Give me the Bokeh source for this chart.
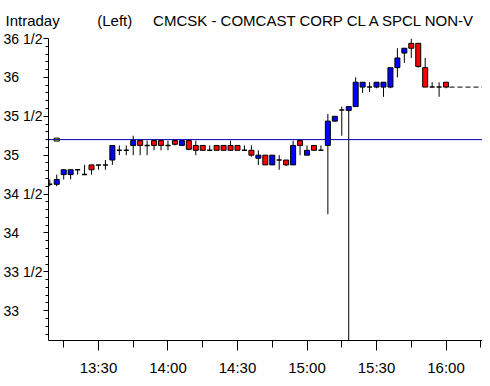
import numpy as np
from bokeh.plotting import figure
from bokeh.models import Range1d, FixedTicker, Span
from bokeh.embed import file_html
from bokeh.resources import INLINE

# ---------------- data ----------------
title_left = "Intraday"
title_mid = "(Left)"
title_right = "CMCSK - COMCAST CORP CL A SPCL NON-V"

start_time = "13:09"
interval_min = 3

opens = [34.625, 34.625, 34.75, 34.75, 34.8125, 34.75, 34.875, 34.875, 34.875, 34.9375,
         35.0625, 35.0625, 35.125, 35.1875, 35.125, 35.1875, 35.1875, 35.125, 35.1875, 35.125,
         35.1875, 35.125, 35.125, 35.0625, 35.125, 35.125, 35.125, 35.125, 35.0625, 35.0625,
         34.96, 35.0, 34.875, 34.9375, 34.9375, 34.875, 35.1875, 35.0, 35.125, 35.0625,
         35.125, 35.4375, 35.58, 35.575, 35.625, 35.875, 35.875, 35.875, 35.875, 35.875,
         36.125, 36.3125, 36.4375, 36.4375, 36.125, 35.875, 35.875, 35.9375]
highs = [34.6875, 34.75, 34.8125, 34.8125, 34.8125, 34.875, 34.875, 34.875, 34.9375, 35.125,
         35.125, 35.125, 35.25, 35.1875, 35.1875, 35.1875, 35.1875, 35.1875, 35.1875, 35.1875,
         35.1875, 35.1875, 35.125, 35.125, 35.125, 35.125, 35.1875, 35.125, 35.125, 35.125,
         35.0625, 35.0, 35.0, 35.0, 34.9375, 35.1875, 35.1875, 35.125, 35.125, 35.125,
         35.53, 35.5, 35.625, 35.625, 36.0, 35.9375, 35.9375, 35.9375, 35.9375, 36.125,
         36.375, 36.375, 36.5, 36.4375, 36.25, 35.9375, 35.9375, 35.9375]
lows = [34.6, 34.6, 34.6875, 34.6875, 34.75, 34.75, 34.75, 34.8125, 34.8125, 34.875,
        35.0, 35.0, 35.0, 35.0, 35.0, 35.0625, 35.0625, 35.0625, 35.125, 35.125,
        35.0625, 35.0, 35.0625, 35.0625, 35.0625, 35.0625, 35.0625, 35.0625, 35.0625, 34.98,
        34.875, 34.875, 34.875, 34.8125, 34.86, 34.875, 35.0, 35.0, 35.0625, 35.0625,
        34.24, 35.4375, 35.25, 32.5, 35.625, 35.8, 35.8125, 35.86, 35.75, 35.86,
        36.0, 36.1875, 36.25, 36.125, 35.875, 35.875, 35.75, 35.86]
closes = [34.625, 34.6875, 34.8125, 34.8125, 34.8125, 34.75, 34.8125, 34.875, 34.875, 35.125,
          35.0625, 35.0625, 35.1875, 35.125, 35.125, 35.125, 35.125, 35.125, 35.14, 35.1875,
          35.075, 35.0625, 35.0625, 35.0625, 35.0625, 35.0625, 35.0625, 35.0625, 35.0625, 35.0,
          35.0, 34.875, 35.0, 34.9375, 34.875, 35.125, 35.125, 35.0625, 35.0625, 35.0625,
          35.4375, 35.5, 35.58, 35.625, 35.9375, 35.9375, 35.875, 35.9375, 35.9375, 36.125,
          36.25, 36.375, 36.375, 36.14, 35.875, 35.875, 35.875, 35.875]

prev_close = 35.2

y_ticks = [36.5, 36.0, 35.5, 35.0, 34.5, 34.0, 33.5, 33.0]
y_tick_labels = ["36 1/2", "36", "35 1/2", "35", "34 1/2", "34", "33 1/2", "33"]
x_tick_labels = ["13:30", "14:00", "14:30", "15:00", "15:30", "16:00"]
x_minor_labels = ["13:15", "13:45", "14:15", "14:45", "15:15", "15:45", "16:15"]

# ---------------- layout ----------------
FONT = "Liberation Sans"
NB = "\u00a0"
W_CANVAS, H_CANVAS = 482, 378
LEFT, RIGHT, TOP, BOTTOM = 45, 0, 37, 37
X0, X1 = 788.44, 975.73
Y0, Y1 = 32.617, 36.5


def to_min(s):
    hh, mm = s.split(":")
    return int(hh) * 60 + int(mm)


t0 = to_min(start_time)
times = [t0 + interval_min * i for i in range(len(opens))]
o = np.array(opens); h = np.array(highs); l = np.array(lows); c = np.array(closes)
t = np.array(times, dtype=float)
BW = interval_min * 0.72

title_text = title_left + NB * 9 + title_mid + NB * 5 + title_right

p = figure(width=W_CANVAS, height=H_CANVAS, output_backend="svg", toolbar_location=None,
           x_range=Range1d(X0, X1), y_range=Range1d(Y0, Y1),
           min_border_left=LEFT, min_border_right=RIGHT, min_border_top=TOP,
           min_border_bottom=BOTTOM, title=title_text)
p.title.align = "left"
p.title.offset = -43
p.title.standoff = 19
p.title.text_font = FONT
p.title.text_font_size = "15px"
p.title.text_font_style = "normal"
p.title.text_color = "black"

p.outline_line_color = None
p.xgrid.grid_line_color = None
p.ygrid.grid_line_color = None
p.background_fill_color = "white"
p.border_fill_color = "white"

# previous close line
p.add_layout(Span(location=prev_close, dimension="width", line_color="#0000b0", line_width=1))

# wicks
p.segment(x0=t, y0=l, x1=t, y1=h, line_color="black", line_width=1)

up = c > o
dn = c < o
dj = c == o
p.vbar(x=t[up], width=BW, bottom=o[up], top=c[up], fill_color="#0000ff",
       line_color="black", line_width=1)
p.vbar(x=t[dn], width=BW, bottom=c[dn], top=o[dn], fill_color="#ff0000",
       line_color="black", line_width=1)
p.segment(x0=t[dj] - BW / 2, y0=c[dj], x1=t[dj] + BW / 2, y1=c[dj],
          line_color="black", line_width=1.5)

# previous close marker
p.rect(x=[times[1]], y=[prev_close], width=5, height=3, width_units="screen",
       height_units="screen", fill_color="#ffff00", line_color="black", line_width=1)

# last price dashed extension
p.segment(x0=[times[-1] + interval_min / 2], y0=[closes[-1]], x1=[X1], y1=[closes[-1]],
          line_color="black", line_width=1, line_dash="5 3")

# x axis
major = [to_min(s) for s in x_tick_labels]
minor = sorted([to_min(s) for s in x_minor_labels] + major)
xa = p.xaxis[0]
xa.ticker = FixedTicker(ticks=major, minor_ticks=minor)
xa.major_label_overrides = {m: s for m, s in zip(major, x_tick_labels)}
xa.major_tick_out = 10
xa.minor_tick_out = 7
xa.major_tick_in = 0
xa.minor_tick_in = 0
xa.axis_line_color = "black"
xa.major_tick_line_color = "black"
xa.minor_tick_line_color = "black"
xa.major_label_text_font = FONT
xa.major_label_text_font_size = "15px"
xa.major_label_text_color = "black"
xa.major_label_standoff = 8

# y axis (labels padded so that they read left-aligned like the reference)
ya = p.yaxis[0]
ya.ticker = FixedTicker(ticks=y_ticks, minor_ticks=list(np.round(np.arange(32.7, 36.45, 0.1), 1)))
ya.major_label_overrides = {v: (s if "/" in s else s + NB * 6)
                            for v, s in zip(y_ticks, y_tick_labels)}
ya.major_tick_out = 5
ya.minor_tick_out = 3
ya.major_tick_in = 0
ya.minor_tick_in = 0
ya.major_label_standoff = 1
ya.axis_line_color = "black"
ya.major_tick_line_color = "black"
ya.minor_tick_line_color = "black"
ya.major_label_text_font = FONT
ya.major_label_text_font_size = "14px"
ya.major_label_text_color = "black"

open("out.html", "w").write(file_html(p, INLINE))
